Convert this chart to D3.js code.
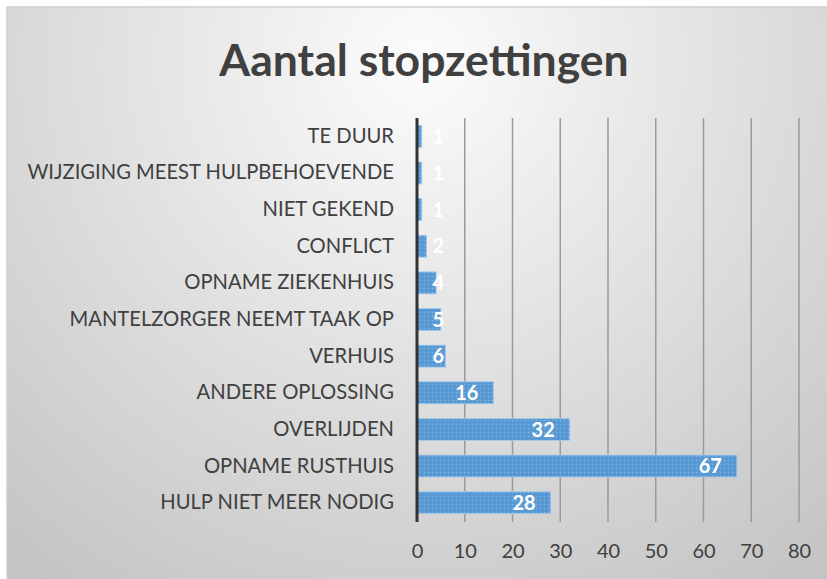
<!DOCTYPE html>
<html>
  <head>
    <script src="https://d3js.org/d3.v7.min.js"></script>
    <style>
      body { margin: 0; background: #fff; }
      text { font-family: Lato, "Open Sans", sans-serif; }
    </style>
  </head>
  <body>
    <svg width="827" height="579"></svg>

    <script type="text/javascript">
      // data (top to bottom)
      var categories = [
        "TE DUUR",
        "WIJZIGING MEEST HULPBEHOEVENDE",
        "NIET GEKEND",
        "CONFLICT",
        "OPNAME ZIEKENHUIS",
        "MANTELZORGER NEEMT TAAK OP",
        "VERHUIS",
        "ANDERE OPLOSSING",
        "OVERLIJDEN",
        "OPNAME RUSTHUIS",
        "HULP NIET MEER NODIG"
      ];
      var values = [1, 1, 1, 2, 4, 5, 6, 16, 32, 67, 28];
      var xTicks = [0, 10, 20, 30, 40, 50, 60, 70, 80];

      var svg = d3.select("svg");
      var defs = svg.append("defs");

      var bg = defs.append("radialGradient")
        .attr("id", "bg")
        .attr("gradientUnits", "userSpaceOnUse")
        .attr("cx", 420).attr("cy", 60).attr("r", 640);
      bg.append("stop").attr("offset", "0%").attr("stop-color", "#fcfcfc");
      bg.append("stop").attr("offset", "100%").attr("stop-color", "#c4c4c4");

      // dotted bar fill
      var pat = defs.append("pattern")
        .attr("id", "dots")
        .attr("patternUnits", "userSpaceOnUse")
        .attr("width", 4).attr("height", 4);
      pat.append("rect").attr("width", 4).attr("height", 4).attr("fill", "#5b9bd5");
      pat.append("rect").attr("x", 0).attr("y", 0).attr("width", 1).attr("height", 1).attr("fill", "#8ab8e4");
      pat.append("rect").attr("x", 2).attr("y", 2).attr("width", 1).attr("height", 1).attr("fill", "#4a8bc8");

      svg.append("rect")
        .attr("x", 7).attr("y", 7)
        .attr("width", 827).attr("height", 579)
        .attr("fill", "url(#bg)")
        .attr("stroke", "#d0d0d0")
        .attr("stroke-width", 1.5);

      svg.append("text")
        .attr("x", 424).attr("y", 76)
        .attr("text-anchor", "middle")
        .attr("font-size", 44.5)
        .attr("font-weight", "bold")
        .attr("fill", "#404040")
        .text("Aantal stopzettingen");

      var x = d3.scaleLinear().domain([0, 80]).range([417, 799]);
      var y = d3.scaleBand().domain(categories).range([118, 521]).paddingInner(0.4).paddingOuter(0.2);

      // gridlines
      svg.append("g")
        .selectAll("line")
        .data(xTicks.slice(1))
        .enter()
        .append("line")
        .attr("x1", function (d) { return x(d); })
        .attr("x2", function (d) { return x(d); })
        .attr("y1", 118).attr("y2", 522)
        .attr("stroke", "#9a9a9a")
        .attr("stroke-width", 1.5);

      // x axis labels
      var xAxis = svg.append("g")
        .attr("transform", "translate(0,522)")
        .call(d3.axisBottom(x).tickValues(xTicks).tickSize(0).tickPadding(22));
      xAxis.select(".domain").remove();
      xAxis.selectAll("text")
        .attr("font-family", "Lato, sans-serif")
        .attr("font-size", 20)
        .attr("fill", "#404040");

      // y axis labels
      var yAxis = svg.append("g")
        .attr("transform", "translate(394,0)")
        .call(d3.axisLeft(y).tickSize(0).tickPadding(0));
      yAxis.select(".domain").remove();
      yAxis.selectAll("text")
        .attr("font-family", "Lato, sans-serif")
        .attr("font-size", 20.2)
        .attr("fill", "#404040");

      // bars
      svg.append("g")
        .selectAll("rect")
        .data(values)
        .enter()
        .append("rect")
        .attr("x", x(0))
        .attr("y", function (d, i) { return y(categories[i]); })
        .attr("width", function (d) { return x(d) - x(0); })
        .attr("height", y.bandwidth())
        .attr("fill", "url(#dots)")
        .attr("stroke", "#a9cbea")
        .attr("stroke-width", 0.8);

      // value labels
      svg.append("g")
        .selectAll("text")
        .data(values)
        .enter()
        .append("text")
        .attr("x", function (d) { return Math.max(x(d) - 15, x(0) + 27); })
        .attr("y", function (d, i) { return y(categories[i]) + y.bandwidth() / 2; })
        .attr("dy", "0.36em")
        .attr("text-anchor", "end")
        .attr("font-size", 20)
        .attr("font-weight", "bold")
        .attr("fill", "#ffffff")
        .text(function (d) { return d; });

      // axis line
      svg.append("line")
        .attr("x1", x(0)).attr("x2", x(0))
        .attr("y1", 118).attr("y2", 522)
        .attr("stroke", "#333")
        .attr("stroke-width", 3);
    </script>
  </body>
</html>
